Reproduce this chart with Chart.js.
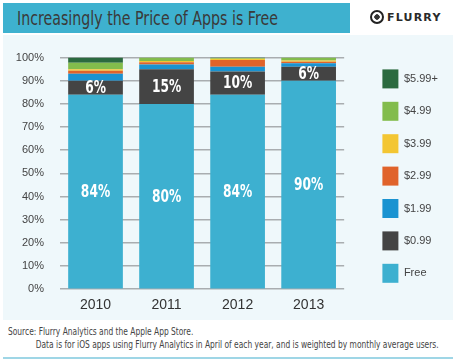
<!DOCTYPE html>
<html>
<head>
<meta charset="utf-8">
<script src="https://cdn.jsdelivr.net/npm/chart.js@4"></script>
<style>
  body { margin: 0; width: 456px; height: 362px; background: #fff; position: relative; overflow: hidden;
         font-family: "DejaVu Sans", sans-serif; }
  #title { position: absolute; left: 3px; top: 3px; width: 347px; height: 30px; background: #3eb1cf; }
  #title span { position: absolute; left: 14px; top: 3px; color: #3a3a3a; font-size: 20px; line-height: 24px;
                white-space: nowrap; transform: scaleX(0.71); transform-origin: left center; }
  #logo { position: absolute; left: 370px; top: 10px; font-family: "DejaVu Sans", sans-serif; font-weight: bold;
          font-size: 11px; letter-spacing: 1.2px; color: #2a2a2a; }
  #logo span { display: inline-block; width: 14px; height: 14px; border: 2px solid #222; border-radius: 50%;
               vertical-align: -3px; margin-right: 3px; box-sizing: border-box; background: radial-gradient(#333 35%, #fff 42%); }
  #panel { position: absolute; left: 3px; top: 35px; width: 450px; height: 285px; background: #eff8fb; }
  #foot { position: absolute; left: 8px; top: 325px; font-size: 10px; color: #444; line-height: 13px; white-space: nowrap;
          transform: scaleX(0.75); transform-origin: left top; }
  #foot div + div { padding-left: 37px; }
  #rule { position: absolute; left: 3px; right: 3px; top: 357px; height: 2px; background: #9fd6e6; }
</style>
</head>
<body>
<div id="title"><span>Increasingly the Price of Apps is Free</span></div>
<div id="logo"><span></span>FLURRY</div>
<div id="panel"><canvas id="appsChart" width="450" height="285"></canvas></div>
<div id="foot">
  <div>Source: Flurry Analytics and the Apple App Store.</div>
  <div>Data is for iOS apps using Flurry Analytics in April of each year, and is weighted by monthly average users.</div>
</div>
<div id="rule"></div>
<script>
const years = ["2010", "2011", "2012", "2013"];
const prices = ["Free", "$0.99", "$1.99", "$2.99", "$3.99", "$4.99", "$5.99+"];
const colores = ["#3db0d0", "#444444", "#1a93d1", "#e0632b", "#f3c633", "#82bc4c", "#2b6a3f"];
const free = [84, 80, 84, 90];
const p099 = [6, 15, 10, 6];
const p199 = [3, 2, 2, 1.6];
const p299 = [1.3, 1, 3, 0.6];
const p399 = [0.7, 0.5, 0.5, 0.5];
const p499 = [2.8, 1.5, 0.3, 1.3];
const p599 = [2.2, 0, 0.2, 0];
const yTicks = ["0%", "10%", "20%", "30%", "40%", "50%", "60%", "70%", "80%", "90%", "100%"];

const series = [free, p099, p199, p299, p399, p499, p599];
const fam = '"Liberation Sans", Arial, sans-serif';

// white percentage labels on the Free and $0.99 segments (squeezed to look condensed)
const segmentLabels = {
  id: "segmentLabels",
  afterDatasetsDraw(chart) {
    const ctx = chart.ctx;
    ctx.save();
    ctx.fillStyle = "#fff";
    ctx.textAlign = "center";
    ctx.textBaseline = "middle";
    ctx.font = "bold 17px \"DejaVu Sans\", sans-serif";
    [0, 1].forEach(function (d) {
      chart.getDatasetMeta(d).data.forEach(function (bar, i) {
        const mid = (bar.y + bar.base) / 2;
        ctx.save();
        ctx.translate(bar.x, mid + 1);
        ctx.scale(0.72, 1);
        ctx.fillText(series[d][i] + "%", 0, 0);
        ctx.restore();
      });
    });
    ctx.restore();
  }
};

// park the legend column where the original has it
const legendSpot = {
  id: "legendSpot",
  afterLayout(chart) {
    chart.legend.left = 366;
    chart.legend.top = 21;
    chart.legend.right = 450;
    chart.legend.width = 84;
  }
};

const chart = new Chart(document.getElementById("appsChart"), {
  type: "bar",
  data: {
    labels: years,
    datasets: prices.map(function (p, i) {
      return {
        label: p,
        data: series[i],
        backgroundColor: colores[i],
        borderWidth: 0,
        categoryPercentage: 1,
        barPercentage: 0.77
      };
    })
  },
  options: {
    responsive: false,
    animation: false,
    layout: { padding: { top: 16, left: 8, right: 30, bottom: 6 } },
    scales: {
      x: {
        stacked: true,
        grid: { display: false },
        border: { display: false },
        ticks: { color: "#333", font: { family: fam, size: 14 }, padding: 0 }
      },
      y: {
        stacked: true,
        min: 0,
        max: 100,
        border: { display: false },
        grid: { color: "#a9adb0", lineWidth: 1.5, drawTicks: false },
        afterFit: function (scale) { scale.width = 49; },
        ticks: {
          stepSize: 10,
          padding: 16,
          color: "#444",
          font: { family: fam, size: 11 },
          callback: function (v) { return yTicks[v / 10]; }
        }
      }
    },
    plugins: {
      legend: {
        position: "right",
        align: "start",
        reverse: true,
        labels: {
          boxWidth: 16,
          boxHeight: 19,
          padding: 13.4,
          color: "#444",
          font: { family: fam, size: 11 }
        }
      },
      tooltip: { enabled: false }
    }
  },
  plugins: [segmentLabels, legendSpot]
});
</script>
</body>
</html>
